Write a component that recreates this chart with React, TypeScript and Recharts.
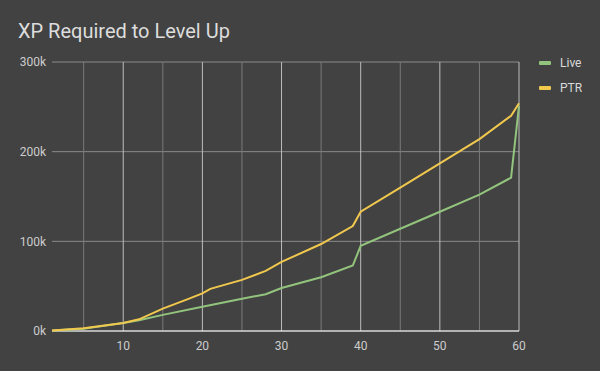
import { LineChart, Line, XAxis, YAxis, CartesianGrid, ReferenceLine } from 'recharts';

// levels (only the visible bends)
const liveLevels = [1, 5, 10, 12, 15, 20, 25, 28, 30, 35, 39, 40, 45, 50, 55, 59, 60];
const liveXp = [500, 2600, 9000, 12000, 18000, 27000, 36000, 41000, 48000, 60000, 73000, 95000, 114000, 133000, 152000, 171000, 251000];

const ptrLevels = [1, 5, 10, 12, 15, 18, 20, 21, 25, 28, 30, 35, 39, 40, 45, 50, 55, 59, 60];
const ptrXp = [500, 3000, 9000, 13000, 25000, 35000, 42000, 47000, 57000, 67000, 77000, 97000, 117000, 133000, 160000, 187000, 214000, 240000, 254000];

const xTicks = [10, 20, 30, 40, 50, 60];
const minorX = [5, 15, 25, 35, 45, 55];
const yTicks = [0, 100000, 200000, 300000];

const liveData = liveLevels.map((lvl, i) => ({ level: lvl, xp: liveXp[i] }));
const ptrData = ptrLevels.map((lvl, i) => ({ level: lvl, xp: ptrXp[i] }));

const SERIES = [
  { name: 'Live', color: '#93c47d', data: liveData },
  { name: 'PTR', color: '#f1c84e', data: ptrData },
];

const FONT = 'Roboto, "Noto Sans", sans-serif';
const tickStyle = { fontSize: 12, fill: '#cccccc', fontFamily: FONT };

function LegendBox() {
  return (
    <div style={{ position: 'absolute', left: 539, top: 50, fontFamily: FONT, fontSize: 12, color: '#d9d9d9' }}>
      {SERIES.map((s) => (
        <div key={s.name} style={{ display: 'flex', alignItems: 'center', height: 25 }}>
          <span style={{ width: 12, height: 4, borderRadius: 1, background: s.color, marginRight: 9 }} />
          {s.name}
        </div>
      ))}
    </div>
  );
}

export default function App() {
  return (
    <div style={{ position: 'absolute', left: 0, top: 0, width: 600, height: 371, background: '#424242' }}>
      <div style={{ position: 'absolute', left: 18, top: 19, fontFamily: FONT, fontSize: 20, color: '#dddddd', lineHeight: 'normal' }}>
        XP Required to Level Up
      </div>
      <LegendBox />
      <LineChart width={600} height={371} margin={{ top: 62, right: 81, bottom: 0, left: 0 }}>
        <CartesianGrid vertical={false} stroke="#8a8a8a" />
        {minorX.map((x) => (
          <ReferenceLine key={x} x={x} stroke="#7a7a7a" />
        ))}
        {xTicks.map((x) => (
          <ReferenceLine key={x} x={x} stroke="#bdbdbd" />
        ))}
        <ReferenceLine y={0} stroke="#ffffff" />
        <XAxis
          dataKey="level"
          type="number"
          domain={[1, 60]}
          ticks={xTicks}
          allowDuplicatedCategory={false}
          axisLine={false}
          tickLine={false}
          tickSize={0}
          tickMargin={10}
          height={40}
          tick={tickStyle}
        />
        <YAxis
          dataKey="xp"
          type="number"
          domain={[0, 300000]}
          ticks={yTicks}
          axisLine={false}
          tickLine={false}
          tickSize={0}
          tickMargin={6}
          width={52}
          tick={tickStyle}
          tickFormatter={(v: number) => `${v / 1000}k`}
        />
        {SERIES.map((s) => (
          <Line
            key={s.name}
            data={s.data}
            dataKey="xp"
            name={s.name}
            type="linear"
            stroke={s.color}
            strokeWidth={2}
            dot={false}
            isAnimationActive={false}
          />
        ))}
      </LineChart>
    </div>
  );
}
